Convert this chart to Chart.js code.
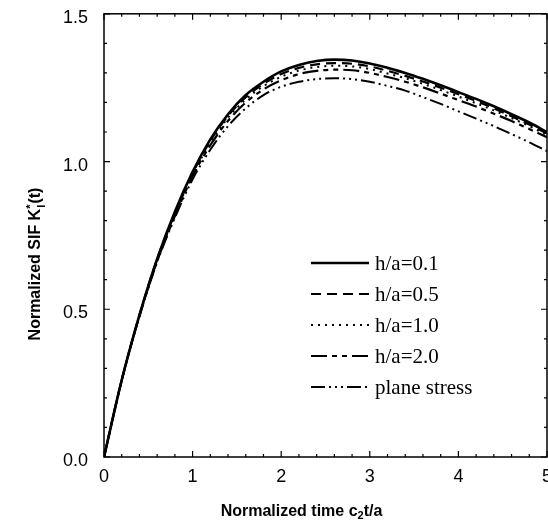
<!DOCTYPE html>
<html>
<head>
<meta charset="utf-8">
<script src="https://cdn.jsdelivr.net/npm/chart.js@4.4.1/dist/chart.umd.min.js"></script>
<style>
  html, body { margin: 0; padding: 0; background: #fff; overflow: hidden; }
  #box { width: 561px; height: 545px; margin-top: -13px; }
</style>
</head>
<body>
<div id="box"><canvas id="grafico"></canvas></div>
<script>
// valores
const tempo = [0, 0.2, 0.4, 0.6, 0.8, 1.0, 1.2, 1.4, 1.6, 1.8, 2.0, 2.2, 2.4, 2.6, 2.8, 3.0, 3.2, 3.4, 3.6, 3.8, 4.0, 4.2, 4.4, 4.6, 4.8, 5.0];
const ha01 = [0, 0.26, 0.48, 0.67, 0.83, 0.965, 1.075, 1.16, 1.225, 1.27, 1.305, 1.327, 1.34, 1.345, 1.342, 1.332, 1.317, 1.30, 1.28, 1.258, 1.235, 1.212, 1.187, 1.16, 1.132, 1.10];
const ha05 = [0, 0.26, 0.48, 0.67, 0.825, 0.96, 1.07, 1.155, 1.218, 1.263, 1.296, 1.317, 1.329, 1.333, 1.331, 1.322, 1.307, 1.29, 1.271, 1.25, 1.228, 1.205, 1.18, 1.153, 1.125, 1.095];
const ha10 = [0, 0.26, 0.48, 0.665, 0.82, 0.955, 1.063, 1.148, 1.21, 1.255, 1.287, 1.308, 1.32, 1.324, 1.322, 1.313, 1.298, 1.282, 1.263, 1.242, 1.22, 1.197, 1.173, 1.147, 1.12, 1.09];
const ha20 = [0, 0.26, 0.478, 0.663, 0.815, 0.95, 1.055, 1.138, 1.2, 1.244, 1.275, 1.296, 1.307, 1.311, 1.309, 1.3, 1.286, 1.27, 1.251, 1.23, 1.208, 1.186, 1.162, 1.137, 1.11, 1.082];
const planeStress = [0, 0.26, 0.475, 0.66, 0.81, 0.94, 1.04, 1.12, 1.18, 1.225, 1.253, 1.27, 1.279, 1.282, 1.279, 1.27, 1.256, 1.24, 1.218, 1.195, 1.17, 1.145, 1.12, 1.093, 1.065, 1.035];
const legendas = ['h/a=0.1', 'h/a=0.5', 'h/a=1.0', 'h/a=2.0', 'plane stress'];
const xTicks = [0, 1, 2, 3, 4, 5];
const yTicks = [0, 0.5, 1.0, 1.5];

// estilos de traço de cada curva
const tracos = [[], [10, 6], [2, 5], [16, 5, 5, 5, 5, 5], [14, 4, 2, 4, 2, 4, 2, 4]];
const larguras = [2.6, 2.2, 2, 2.2, 2];

function serie(valores) {
    return tempo.map((t, i) => ({ x: t, y: valores[i] }));
}

const todas = [ha01, ha05, ha10, ha20, planeStress];

const SANS = '"Liberation Sans", Arial, sans-serif';
const OFF = 13; // o canvas começa 13px acima da janela

// moldura com ticks para dentro, legenda e títulos dos eixos
const moldura = {
    id: 'moldura',
    afterDraw(chart) {
        const ctx = chart.ctx;
        const a = chart.chartArea;
        const sx = chart.scales.x, sy = chart.scales.y;
        ctx.save();
        ctx.strokeStyle = '#000';
        ctx.lineWidth = 1.5;
        ctx.setLineDash([]);
        ctx.strokeRect(a.left, a.top, a.right - a.left, a.bottom - a.top);

        ctx.lineWidth = 1.2;
        for (let k = 0; k <= 25; k++) {
            const px = sx.getPixelForValue(k * 0.2);
            const len = (k % 5 === 0) ? 6 : 3;
            ctx.beginPath();
            ctx.moveTo(px, a.bottom); ctx.lineTo(px, a.bottom - len);
            ctx.moveTo(px, a.top); ctx.lineTo(px, a.top + len);
            ctx.stroke();
        }
        for (let k = 0; k <= 15; k++) {
            const py = sy.getPixelForValue(k * 0.1);
            const len = (k % 5 === 0) ? 6 : 3;
            ctx.beginPath();
            ctx.moveTo(a.left, py); ctx.lineTo(a.left + len, py);
            ctx.moveTo(a.right, py); ctx.lineTo(a.right - len, py);
            ctx.stroke();
        }

        // legenda
        ctx.font = '21px "Liberation Serif", "Times New Roman", serif';
        ctx.textBaseline = 'middle';
        ctx.fillStyle = '#000';
        legendas.forEach((txt, i) => {
            const y = OFF + 263 + i * 31;
            ctx.beginPath();
            ctx.lineWidth = larguras[i];
            ctx.setLineDash(tracos[i]);
            ctx.moveTo(311, y); ctx.lineTo(369, y);
            ctx.stroke();
            ctx.setLineDash([]);
            ctx.fillText(txt, 375, y + 1);
        });

        // título do eixo x
        const cx = (a.left + a.right) / 2 - 24;
        const p1 = 'Normalized time c', p2 = '2', p3 = 't/a';
        ctx.font = 'bold 16px ' + SANS;
        const w1 = ctx.measureText(p1).width, w3 = ctx.measureText(p3).width;
        ctx.font = 'bold 11px ' + SANS;
        const w2 = ctx.measureText(p2).width;
        let x0 = cx - (w1 + w2 + w3) / 2;
        ctx.textAlign = 'left';
        ctx.textBaseline = 'alphabetic';
        ctx.font = 'bold 16px ' + SANS;
        ctx.fillText(p1, x0, OFF + 516);
        ctx.font = 'bold 11px ' + SANS;
        ctx.fillText(p2, x0 + w1, OFF + 519);
        ctx.font = 'bold 16px ' + SANS;
        ctx.fillText(p3, x0 + w1 + w2, OFF + 516);

        // título do eixo y (rotacionado)
        ctx.translate(40, OFF + 264);
        ctx.rotate(-Math.PI / 2);
        const q1 = 'Normalized SIF K', q4 = '(t)';
        ctx.font = 'bold 16px ' + SANS;
        const v1 = ctx.measureText(q1).width, v4 = ctx.measureText(q4).width;
        ctx.font = 'bold 11px ' + SANS;
        const v2 = ctx.measureText('*').width + 1;
        const total = v1 + v2 + v4;
        let y0 = -total / 2;
        ctx.font = 'bold 16px ' + SANS;
        ctx.fillText(q1, y0, 0);
        ctx.font = 'bold 11px ' + SANS;
        ctx.fillText('*', y0 + v1, -6);
        ctx.fillText('I', y0 + v1 + 1, 5);
        ctx.font = 'bold 16px ' + SANS;
        ctx.fillText(q4, y0 + v1 + v2, 0);
        ctx.restore();
    }
};

const ctx = document.getElementById('grafico').getContext('2d');
new Chart(ctx, {
    type: 'scatter',
    data: {
        datasets: todas.map((vals, i) => ({
            label: legendas[i],
            data: serie(vals),
            showLine: true,
            borderColor: '#000',
            backgroundColor: '#000',
            borderWidth: larguras[i],
            borderDash: tracos[i],
            pointRadius: 0,
            cubicInterpolationMode: 'monotone',
            fill: false
        }))
    },
    options: {
        responsive: true,
        maintainAspectRatio: false,
        animation: false,
        layout: { padding: { top: 3, right: 0, left: 0, bottom: 0 } },
        plugins: {
            legend: { display: false },
            tooltip: { enabled: false }
        },
        scales: {
            x: {
                type: 'linear',
                min: 0, max: 5,
                afterBuildTicks(scale) { scale.ticks = xTicks.map(v => ({ value: v })); },
                afterFit(scale) { scale.height = 75; },
                grid: { display: false, drawTicks: false },
                border: { display: false },
                ticks: {
                    padding: 9,
                    color: '#000',
                    font: { family: SANS, size: 18 },
                    callback: v => String(v)
                }
            },
            y: {
                type: 'linear',
                min: 0, max: 1.5,
                afterBuildTicks(scale) { scale.ticks = yTicks.map(v => ({ value: v })); },
                afterFit(scale) { scale.width = 104; },
                grid: { display: false, drawTicks: false },
                border: { display: false },
                ticks: {
                    padding: 16,
                    labelOffset: 4,
                    color: '#000',
                    font: { family: SANS, size: 18 },
                    callback: v => v.toFixed(1)
                }
            }
        }
    },
    plugins: [moldura]
});
</script>
</body>
</html>
